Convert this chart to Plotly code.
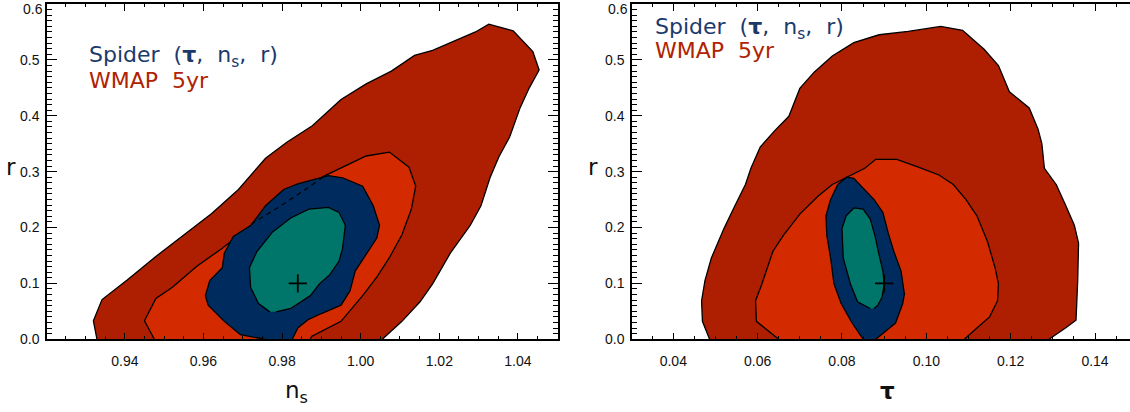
import plotly.graph_objects as go

# ---------------- Left panel: n_s vs r ----------------
L_wmap2_x = [0.9329, 0.9320, 0.9342, 0.9406, 0.9475, 0.9548, 0.9621, 0.9689, 0.9758, 0.9813, 0.9877,
             0.9950, 1.0014, 1.0078, 1.0137, 1.0183, 1.0292, 1.0326, 1.0388, 1.0438, 1.0454, 1.0429,
             1.0406, 1.0379, 1.0352, 1.0329, 1.0306, 1.0279, 1.0228, 1.0183, 1.0151, 1.0105, 1.0055]
L_wmap2_y = [0.0, 0.033, 0.071, 0.106, 0.146, 0.185, 0.225, 0.268, 0.324, 0.353, 0.382,
             0.429, 0.457, 0.480, 0.508, 0.517, 0.550, 0.564, 0.552, 0.515, 0.482, 0.450,
             0.415, 0.362, 0.327, 0.289, 0.239, 0.204, 0.154, 0.099, 0.067, 0.032, 0.0]

L_wmap1_x = [0.9475, 0.9450, 0.9479, 0.9521, 0.9584, 0.9648, 0.9721, 0.9786, 0.9849, 0.9904, 1.0014,
             1.0073, 1.0123, 1.0140, 1.0129, 1.0105, 1.0073, 1.0041, 1.0005, 0.9950, 0.9875, 0.9872]
L_wmap1_y = [0.0, 0.033, 0.073, 0.093, 0.131, 0.163, 0.204, 0.233, 0.263, 0.291, 0.328,
             0.335, 0.308, 0.274, 0.233, 0.187, 0.146, 0.111, 0.078, 0.032, 0.005, 0.0]

L_dash_x = [0.9721, 0.9786, 0.9849, 0.9904]
L_dash_y = [0.206, 0.234, 0.263, 0.290]

L_spider2_x = [0.9756, 0.9694, 0.9653, 0.9612, 0.9605, 0.9616, 0.9648, 0.9653, 0.9676, 0.9721, 0.9758,
               0.9804, 0.9840, 0.9886, 0.9918, 0.9954, 1.0005, 1.0032, 1.0048, 1.0041, 1.0009, 0.9986,
               0.9973, 0.9950, 0.9900, 0.9866, 0.9840, 0.9826]
L_spider2_y = [0.0, 0.008, 0.032, 0.061, 0.078, 0.105, 0.128, 0.154, 0.184, 0.204, 0.239,
               0.268, 0.278, 0.287, 0.293, 0.289, 0.274, 0.239, 0.204, 0.181, 0.146, 0.122,
               0.087, 0.061, 0.046, 0.035, 0.020, 0.0]

L_spider1_x = [0.9769, 0.9740, 0.9720, 0.9717, 0.9736, 0.9776, 0.9822, 0.9868, 0.9918, 0.9945, 0.9961,
               0.9954, 0.9945, 0.9922, 0.9895, 0.9872, 0.9822, 0.9785]
L_spider1_y = [0.049, 0.064, 0.093, 0.128, 0.157, 0.192, 0.217, 0.233, 0.236, 0.227, 0.204,
               0.163, 0.140, 0.116, 0.099, 0.078, 0.055, 0.049]

L_fid = (0.984, 0.1)

# ---------------- Right panel: tau vs r ----------------
R_wmap2_x = [0.0486, 0.0469, 0.0467, 0.0475, 0.0490, 0.0520, 0.0546, 0.0571, 0.0584, 0.0606, 0.0640,
             0.0674, 0.0700, 0.0734, 0.0777, 0.0828, 0.0888, 0.0957, 0.1034, 0.1086, 0.1137, 0.1171,
             0.1197, 0.1244, 0.1265, 0.1274, 0.1280, 0.1308, 0.1329, 0.1351, 0.1361, 0.1359, 0.1355,
             0.1330, 0.1291]
R_wmap2_y = [0.0, 0.032, 0.069, 0.105, 0.145, 0.198, 0.239, 0.277, 0.306, 0.344, 0.373,
             0.399, 0.449, 0.478, 0.507, 0.531, 0.545, 0.551, 0.560, 0.553, 0.519, 0.490,
             0.443, 0.414, 0.376, 0.350, 0.306, 0.277, 0.242, 0.204, 0.172, 0.105, 0.034,
             0.020, 0.0]

R_wmap1_x = [0.0650, 0.0597, 0.0595, 0.0610, 0.0636, 0.0661, 0.0700, 0.0743, 0.0777, 0.0811, 0.0854,
             0.0880, 0.0930, 0.0978, 0.1030, 0.1064, 0.1094, 0.1120, 0.1145, 0.1163, 0.1171, 0.1169,
             0.1150, 0.1120, 0.1090]
R_wmap1_y = [0.0, 0.032, 0.069, 0.099, 0.157, 0.186, 0.224, 0.256, 0.277, 0.290, 0.306,
             0.322, 0.322, 0.309, 0.294, 0.277, 0.250, 0.221, 0.175, 0.128, 0.099, 0.069,
             0.040, 0.020, 0.0]

R_spider2_x = [0.0850, 0.0824, 0.0798, 0.0781, 0.0773, 0.0764, 0.0762, 0.0773, 0.0790, 0.0811, 0.0828,
               0.0850, 0.0876, 0.0897, 0.0910, 0.0923, 0.0940, 0.0948, 0.0944, 0.0927, 0.0897, 0.0880]
R_spider2_y = [0.0, 0.029, 0.064, 0.099, 0.145, 0.186, 0.221, 0.250, 0.277, 0.290, 0.288,
               0.271, 0.250, 0.227, 0.189, 0.157, 0.122, 0.081, 0.064, 0.029, 0.011, 0.0]

R_spider1_x = [0.0867, 0.0837, 0.0820, 0.0803, 0.0800, 0.0810, 0.0828, 0.0850, 0.0867, 0.0878, 0.0888,
               0.0897, 0.0900, 0.0895, 0.0885, 0.0876]
R_spider1_y = [0.055, 0.067, 0.099, 0.145, 0.198, 0.221, 0.235, 0.233, 0.215, 0.186, 0.151,
               0.122, 0.099, 0.075, 0.061, 0.055]

R_fid = (0.090, 0.1)

# ---------------- Tick labels ----------------
r_tickvals = [0.0, 0.1, 0.2, 0.3, 0.4, 0.5, 0.6]
r_ticktext = ["0.0", "0.1", "0.2", "0.3", "0.4", "0.5", ""]   # top "0.6" placed as annotation
r_top_label = "0.6"

# ---------------- Styles ----------------
C_WMAP2 = "#AE1E00"
C_WMAP1 = "#D32A00"
C_SP2 = "#002B5E"
C_SP1 = "#00766A"
EDGE = dict(color="black", width=1.3)

fig = go.Figure()


def poly(x, y, color, xa, ya):
    fig.add_trace(go.Scatter(x=x, y=y, fill="toself", fillcolor=color, mode="lines",
                             line=EDGE, xaxis=xa, yaxis=ya, hoverinfo="skip", showlegend=False))


for xa, ya, sets, fid in [
    ("x", "y", [(L_wmap2_x, L_wmap2_y, C_WMAP2), (L_wmap1_x, L_wmap1_y, C_WMAP1),
                (L_spider2_x, L_spider2_y, C_SP2), (L_spider1_x, L_spider1_y, C_SP1)], L_fid),
    ("x2", "y2", [(R_wmap2_x, R_wmap2_y, C_WMAP2), (R_wmap1_x, R_wmap1_y, C_WMAP1),
                  (R_spider2_x, R_spider2_y, C_SP2), (R_spider1_x, R_spider1_y, C_SP1)], R_fid),
]:
    for px, py, c in sets:
        poly(px, py, c, xa, ya)
    if xa == "x":
        fig.add_trace(go.Scatter(x=L_dash_x, y=L_dash_y, mode="lines",
                                 line=dict(color="black", width=1.2, dash="5px,4px"),
                                 xaxis=xa, yaxis=ya, hoverinfo="skip", showlegend=False))
    fig.add_trace(go.Scatter(x=[fid[0]], y=[fid[1]], mode="markers",
                             marker=dict(symbol="cross-thin", size=13, line=dict(color="black", width=1.8)),
                             xaxis=xa, yaxis=ya, hoverinfo="skip", showlegend=False))

W, H = 1130, 412
TICKFONT = dict(family="Liberation Sans, Arial, sans-serif", size=14, color="#111")


def xaxis(dom, rng, mirror):
    return dict(domain=dom, range=rng, tick0=0, dtick=0.02, tickformat=".2f",
                ticks="inside", ticklen=7, tickwidth=1, tickcolor="black",
                minor=dict(tick0=0, dtick=0.005, ticks="inside", ticklen=3.5, tickwidth=1, tickcolor="black"),
                showline=True, linecolor="black", linewidth=1.5, mirror=mirror,
                showgrid=False, zeroline=False, tickfont=TICKFONT, ticklabelstandoff=8)


def yaxis(anchor, mirror):
    return dict(domain=[1 - 346 / H, 1 - 4 / H], range=[-0.0001, 0.6002],
                tickmode="array", tickvals=r_tickvals, ticktext=r_ticktext,
                anchor=anchor, ticks="inside", ticklen=10, tickwidth=1, tickcolor="black",
                minor=dict(tickmode="linear", tick0=0, dtick=0.01, ticks="inside", ticklen=5,
                           tickwidth=1, tickcolor="black"),
                showline=True, linecolor="black", linewidth=1.5, mirror=mirror,
                showgrid=False, zeroline=False, tickfont=TICKFONT, ticklabelstandoff=3)


fig.update_layout(
    width=W, height=H, margin=dict(l=0, r=0, t=0, b=0),
    paper_bgcolor="white", plot_bgcolor="white", showlegend=False,
    xaxis=xaxis([47 / W, 558 / W], [0.9202, 1.0502], "allticks"),
    yaxis=yaxis("x", "allticks"),
    xaxis2=xaxis([632 / W, 1.0], [0.0302, 0.1483], "allticks") | dict(anchor="y2"),
    yaxis2=yaxis("x2", False),
)

LEGFONT = dict(family="DejaVu Sans, sans-serif", size=22)
TITLEFONT = dict(family="DejaVu Sans, sans-serif", size=23, color="#111")
NB = "\u00a0"
spider_txt = f"Spider{NB}{NB}(<b>τ</b>,{NB}{NB}n<sub>s</sub>,{NB}{NB}r)"
wmap_txt = f"WMAP{NB}{NB}5yr"

annots = []
for lx, y1, y2 in [(87, 58, 82), (653, 29, 52)]:
    annots.append(dict(x=lx / W, y=1 - y1 / H, xref="paper", yref="paper", xanchor="left", yanchor="middle",
                       text=spider_txt, showarrow=False, font=dict(color="#1B3A6B", **LEGFONT)))
    annots.append(dict(x=lx / W, y=1 - y2 / H, xref="paper", yref="paper", xanchor="left", yanchor="middle",
                       text=wmap_txt, showarrow=False, font=dict(color="#B02200", **LEGFONT)))

for tx, ty, tt in [(11, 170, "r"), (593, 170, "r"), (296, 400, "n<sub>s</sub>"), (887, 399, "<b>τ</b>")]:
    annots.append(dict(x=tx / W, y=1 - ty / H, xref="paper", yref="paper", xanchor="center", yanchor="middle",
                       text=tt, showarrow=False, font=TITLEFONT))

for ax_x in [44, 629]:
    annots.append(dict(x=ax_x / W, y=1 - 9 / H, xref="paper", yref="paper", xanchor="right", yanchor="middle",
                       text=r_top_label, showarrow=False, font=TICKFONT, borderpad=0))
fig.update_layout(annotations=annots)

fig.write_html("out.html", config={"displayModeBar": False},
               post_script="document.body.style.margin='0';")
